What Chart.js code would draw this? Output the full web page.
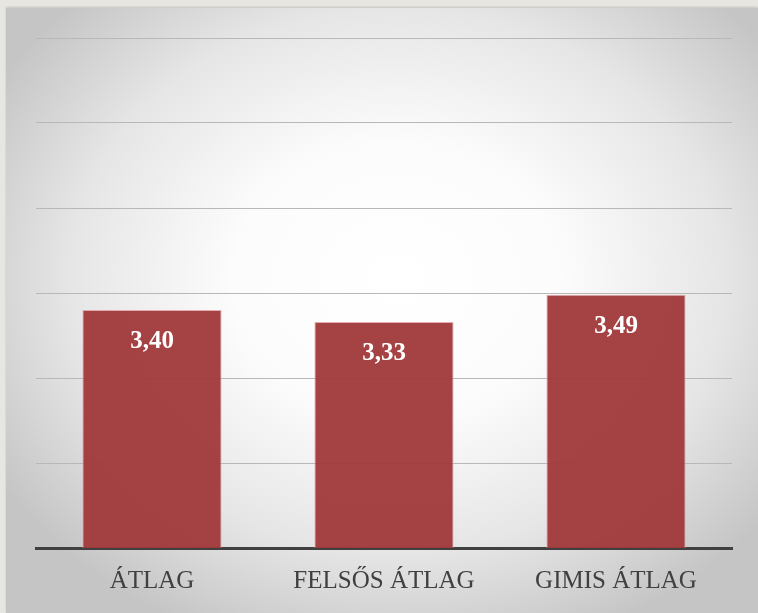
<!DOCTYPE html>
<html>
<head>
<meta charset="utf-8">
<script src="https://cdn.jsdelivr.net/npm/chart.js@4.4.0/dist/chart.umd.min.js"></script>
<style>
  html, body { margin: 0; padding: 0; }
  body { width: 758px; height: 613px; background: #e7e6e1; position: relative; overflow: hidden; }
  #panel {
    position: absolute; left: 6px; top: 8px; width: 752px; height: 605px;
    background: radial-gradient(ellipse 62% 64% at 52% 45%, #ffffff 0%, #fcfcfc 35%, #e6e6e6 70%, #c5c5c5 100%);
    box-shadow: 0 -1px 2px rgba(0,0,0,0.15);
  }
  #wrap { position: absolute; left: 0; top: 0; width: 758px; height: 613px; }
</style>
</head>
<body>
<div id="panel"></div>
<div id="wrap"><canvas id="c" width="758" height="613"></canvas></div>
<script>
const categories = ["ÁTLAG", "FELSŐS ÁTLAG", "GIMIS ÁTLAG"];
const values = [3.40, 3.33, 3.49];
const valueLabels = ["3,40", "3,33", "3,49"];

const barLabelPlugin = {
  id: 'barLabels',
  afterDatasetsDraw(chart) {
    const ctx = chart.ctx;
    const meta = chart.getDatasetMeta(0);
    ctx.save();
    ctx.fillStyle = '#ffffff';
    ctx.font = 'bold 25px "Liberation Serif", serif';
    ctx.textAlign = 'center';
    ctx.textBaseline = 'middle';
    meta.data.forEach((bar, i) => {
      ctx.fillText(valueLabels[i], bar.x, bar.y + 32);
    });
    ctx.restore();
  }
};

new Chart(document.getElementById('c'), {
  type: 'bar',
  data: {
    labels: categories,
    datasets: [{
      data: values,
      backgroundColor: 'rgba(160,56,58,0.95)',
      borderColor: 'rgba(225,160,160,0.85)',
      borderWidth: 1,
      categoryPercentage: 0.6,
      barPercentage: 1.0
    }]
  },
  options: {
    responsive: false,
    animation: false,
    devicePixelRatio: 1,
    layout: { padding: { left: 36, right: 26, top: 38, bottom: 0 } },
    plugins: { legend: { display: false }, tooltip: { enabled: false } },
    scales: {
      x: {
        grid: { display: false },
        border: { display: true, color: '#404040', width: 3 },
        ticks: { color: '#404040', font: { family: '"Liberation Serif", serif', size: 25 }, padding: 10 },
        afterFit(scale) { scale.height = 65; }
      },
      y: {
        min: 2, max: 5,
        ticks: { display: false, stepSize: 0.5 },
        grid: { color: '#b8b8b8', lineWidth: 1, drawTicks: false },
        border: { display: false }
      }
    }
  },
  plugins: [barLabelPlugin]
});
</script>
</body>
</html>
